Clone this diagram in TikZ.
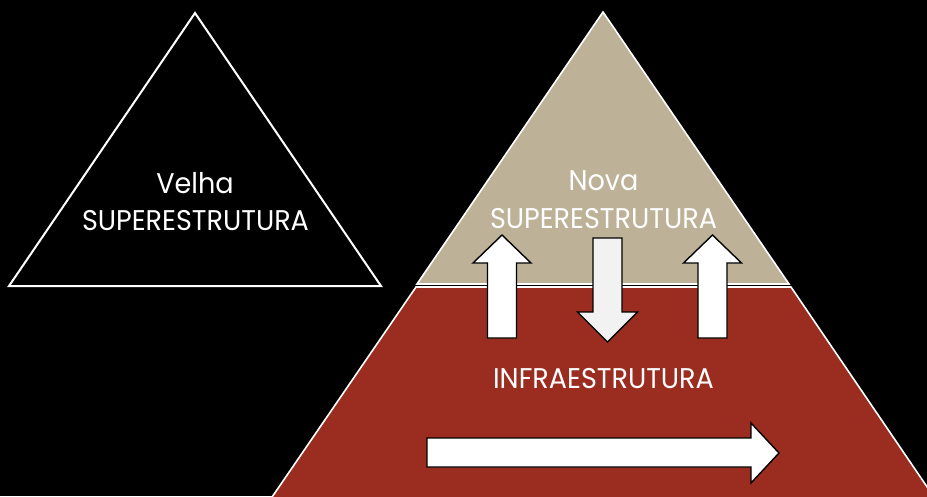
\documentclass[tikz,border=0pt]{standalone}
\usepackage{fontspec}
\setmainfont{Poppins}[FakeStretch=0.95]
\definecolor{tanfill}{RGB}{189,178,152}
\definecolor{brick}{RGB}{155,45,32}
\definecolor{arrowgray}{RGB}{242,242,242}
\begin{document}
\begin{tikzpicture}[x=1pt,y=-1pt,
  lbl/.style={text=white, font=\fontsize{28.5}{34}\selectfont, inner sep=0, anchor=base},
  outline/.style={draw=white, line width=1.6pt, line join=miter},
  blockarrow/.style={draw=black, line width=1.4pt, line join=miter}]
\fill[black] (0,0) rectangle (927,496);
\useasboundingbox (0,0) rectangle (927,496);
% old superstructure
\draw[outline, line width=2pt] (195,13) -- (381,286) -- (9,286) -- cycle;
\node[lbl] (velha) at (195,193) {Velha};
\node[lbl] (velhasup) at (195.5,230) {SUPERESTRUTURA};
% new pyramid
\begin{scope}
\clip (0,0) rectangle (927,496);
\filldraw[outline, fill=brick] (416,287) -- (791,287) -- (936,500) -- (270,500) -- cycle;
\end{scope}
\filldraw[outline, fill=tanfill] (603,12) -- (789,284) -- (417,284) -- cycle;
\node[lbl] (nova) at (603.5,190) {Nova};
\node[lbl] (novasup) at (603.5,228) {SUPERESTRUTURA};
\node[lbl] (infra) at (603.5,388) {INFRAESTRUTURA};
% arrows
\filldraw[blockarrow, fill=white] (487.5,338) -- (487.5,263) -- (473,263) -- (502,235) -- (531,263) -- (516.5,263) -- (516.5,338) -- cycle;
\filldraw[blockarrow, fill=arrowgray] (593,238) -- (622,238) -- (622,312) -- (637.5,312) -- (607.5,342) -- (577.5,312) -- (593,312) -- cycle;
\filldraw[blockarrow, fill=white] (698,338) -- (698,263) -- (683.5,263) -- (712.5,235) -- (741.5,263) -- (727,263) -- (727,338) -- cycle;
\filldraw[blockarrow, fill=white] (427,438) -- (751,438) -- (751,423) -- (779,453) -- (751,483) -- (751,467) -- (427,467) -- cycle;
\end{tikzpicture}
\end{document}
